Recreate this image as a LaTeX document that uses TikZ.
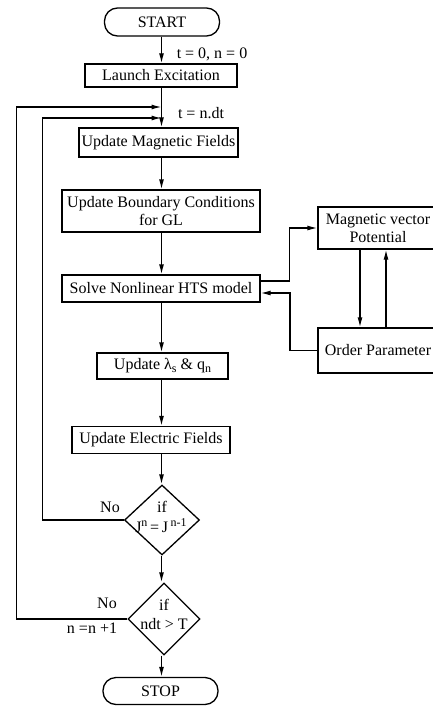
\documentclass[tikz,border=0pt]{standalone}
\usepackage{fontspec}
\setmainfont{Liberation Serif}
\usetikzlibrary{arrows.meta, shapes.geometric, calc}

\newcommand{\chartfont}{\fontsize{16}{18}\selectfont}
\newcommand{\upidx}[1]{\raisebox{6pt}{\fontsize{12}{12}\selectfont #1}}
\newcommand{\downidx}[1]{\raisebox{-3pt}{\fontsize{12}{12}\selectfont #1}}

\tikzset{
    box/.style = {draw, line width = 1.3pt, inner sep = 0pt, align = center, font = \chartfont},
    terminal/.style = {box, rounded corners = 13pt},
    decision/.style = {draw, diamond, line width = 1.3pt, inner sep = 0pt},
    flow/.style = {line width = 1.3pt, -{Latex[length = 10pt, width = 5pt]}},
    note/.style = {font = \chartfont, inner sep = 0pt}
}

\begin{document}
\begin{tikzpicture}[x = 1pt, y = -1pt]
    \useasboundingbox (0,0) rectangle (433,706);
    \coordinate (axis) at (161.5,0);

    \node[terminal, minimum width = 115, minimum height = 28] (start) at (162,22) {START};
    \node[box, minimum width = 152, minimum height = 23] (launch) at (161,75.5) {Launch Excitation};
    \node[box, minimum width = 159, minimum height = 29] (magn) at (158.5,142.5) {Update Magnetic Fields};
    \node[box, minimum width = 198, minimum height = 42] (bound) at (161,211) {Update Boundary Conditions\\for GL};
    \node[box, minimum width = 198, minimum height = 27] (solve) at (161,288.5) {Solve Nonlinear HTS model};
    \node[box, minimum width = 131, minimum height = 26] (lam) at (162.5,366) {Update λ\downidx{s} \& q\downidx{n}};
    \node[box, minimum width = 158, minimum height = 27] (elec) at (151,440) {Update Electric Fields};
    \node[decision, minimum width = 75, minimum height = 70] (conv) at (162,520) {};
    \node[decision, minimum width = 72, minimum height = 72] (time) at (164,619) {};
    \node[terminal, minimum width = 115, minimum height = 27] (stop) at (160.5,691) {STOP};

    \node[box, minimum width = 120, minimum height = 42] (vecpot) at (378,228) {Magnetic vector\\Potential};
    \node[box, minimum width = 120, minimum height = 45] (order) at (378,350.5) {Order Parameter};

    \node[note] (convif) at (162,507) {if};
    \node[note] (convtext) at (161,526) {J\upidx{n}\,=\,J\,\upidx{n-1}};
    \node[note] (timeif) at (164,605) {if};
    \node[note] (timetext) at (164,624) {ndt > T};

    \node[note] (init) at (212,54) {t = 0, n = 0};
    \node[note] (step) at (201,113) {t = n.dt};
    \node[note] (nofield) at (110,507) {No};
    \node[note] (notime) at (107,603) {No};
    \node[note] (incr) at (92,628) {n =n +1};

    \foreach \a/\b in {start/launch, launch/magn, magn/bound, bound/solve, solve/lam, lam/elec, elec/conv, conv/time, time/stop}
        \draw[flow] (\a.south -| axis) -- (\b.north -| axis);

    % feedback loops into the time step
    \coordinate (innerend) at ($(axis |- 0,118)$);
    \coordinate (outerend) at ($(axis |- 0,107)$);
    \draw[flow] (conv.west) -- (42.5,0 |- conv.west) -- (42.5,118) -- (innerend);
    \draw[flow] (time.west) -- (16.5,0 |- time.west) -- (16.5,107) -- (outerend);

    % coupling with the HTS model
    \draw[flow] ($(solve.east)+(0,-7.5)$) -- ++(29,0) |- (vecpot.west);
    \draw[flow] (order.west) -| (290,293) -- ($(solve.east)+(0,4.5)$);
    \draw[flow] (360,0 |- vecpot.south) -- (360,0 |- order.north);
    \draw[flow] (386,0 |- order.north) -- (386,0 |- vecpot.south);
\end{tikzpicture}
\end{document}
